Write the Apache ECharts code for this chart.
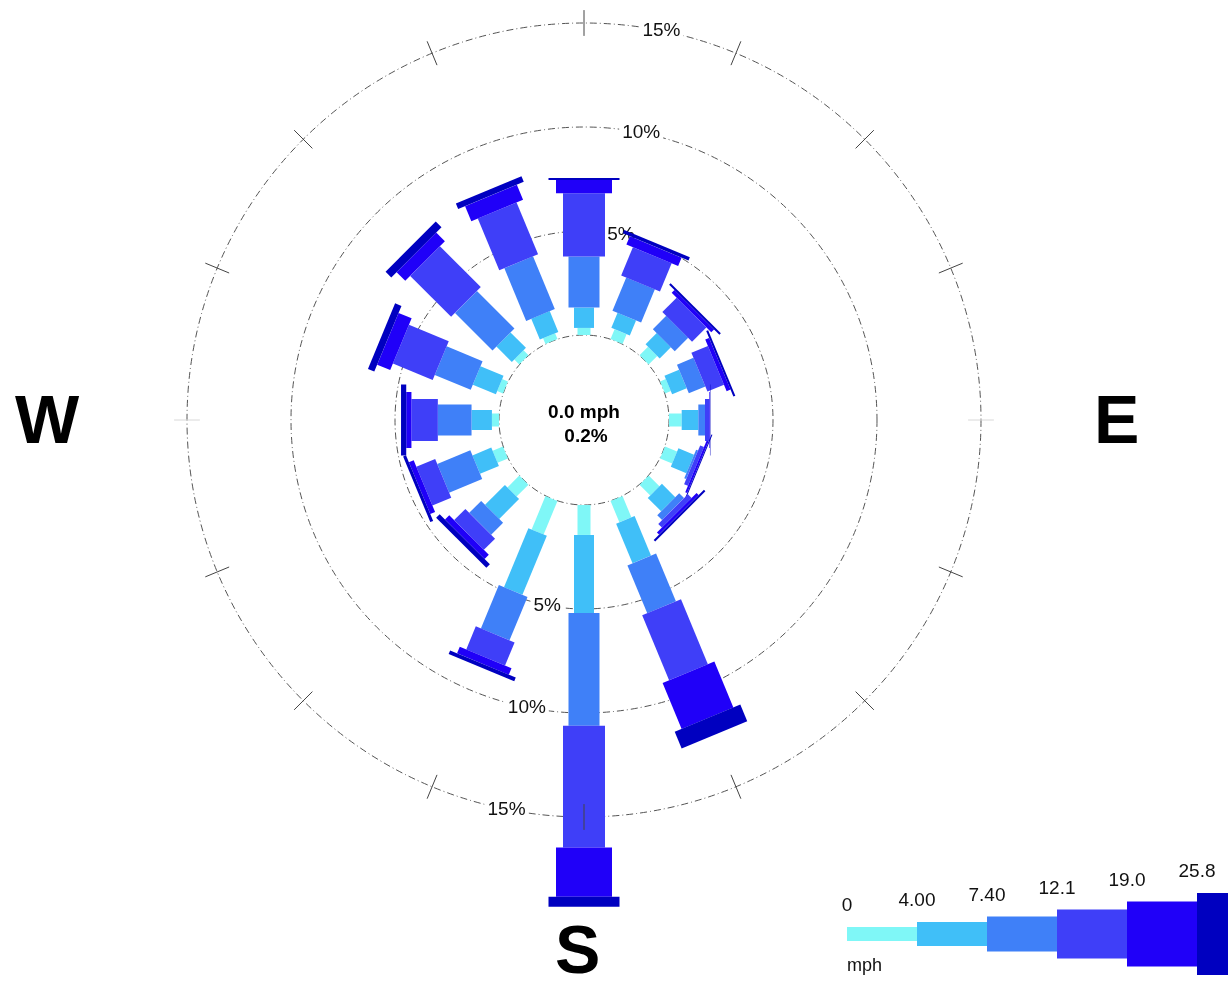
<!DOCTYPE html>
<html>
<head>
<meta charset="utf-8">
<title>Wind Rose</title>
<script src="https://cdn.jsdelivr.net/npm/echarts@6/dist/echarts.min.js"></script>
<style>
html, body { margin: 0; padding: 0; background: #ffffff; }
#rose { width: 1228px; height: 982px; }
</style>
</head>
<body>
<div id="rose"></div>
<script>
// 16 directions, clockwise from north
var directions = ['N', 'NNE', 'NE', 'ENE', 'E', 'ESE', 'SE', 'SSE', 'S', 'SSW', 'SW', 'WSW', 'W', 'WNW', 'NW', 'NNW'];

// frequency (%) of each wind speed class, per direction
var spd_0_4    = [0.34, 0.51, 0.58, 0.30, 0.61, 0.63, 0.73, 1.11, 1.44, 1.74, 0.81, 0.54, 0.34, 0.30, 0.34, 0.30];
var spd_4_74   = [0.98, 0.78, 0.76, 0.76, 0.80, 0.81, 0.91, 2.06, 3.75, 3.07, 1.35, 0.98, 0.98, 1.20, 1.05, 1.08];
var spd_74_121 = [2.45, 1.73, 0.91, 0.86, 0.32, 0.10, 0.33, 2.49, 5.42, 2.26, 0.81, 1.72, 1.62, 1.87, 2.55, 2.74];
var spd_121_19 = [3.04, 1.47, 0.97, 0.86, 0.21, 0.20, 0.25, 3.38, 5.86, 1.20, 0.76, 0.98, 1.27, 2.07, 2.78, 2.70];
var spd_19_258 = [0.64, 0.43, 0.19, 0.20, 0.03, 0.10, 0.14, 2.39, 2.36, 0.34, 0.29, 0.25, 0.25, 0.68, 0.59, 0.78];
var spd_258up  = [0.10, 0.17, 0.10, 0.10, 0.02, 0.05, 0.10, 0.87, 0.48, 0.19, 0.24, 0.15, 0.25, 0.33, 0.39, 0.29];

// legend tick labels (mph)
var speedBreaks = ['0', '4.00', '7.40', '12.1', '19.0', '25.8'];
var ringValues = [5, 10, 15];
var calmLabel = ['0.0 mph', '0.2%'];

var speedClasses = [spd_0_4, spd_4_74, spd_74_121, spd_121_19, spd_19_258, spd_258up];
var speedColors = ['#7ff7f7', '#40bff8', '#3f80f8', '#3f3ff8', '#2000f8', '#0000c0'];
var barWidths = [13, 20, 31, 42, 56, 71];
var legendHeights = [14, 24, 35, 49, 65, 82];
var step = 360 / directions.length;

// stacked segments: [direction index, start %, end %, class]
var segments = [];
directions.forEach(function (d, i) {
  var cum = 0;
  speedClasses.forEach(function (arr, k) {
    segments.push([i, cum, cum + arr[i], k]);
    cum += arr[i];
  });
});

var ringLabels = [];
ringValues.forEach(function (v) {
  ringLabels.push([v, step / 2]);
  ringLabels.push([v, 180 + step / 2]);
});

var tickAngles = directions.map(function (d, i) { return [15, i * step]; });

function renderBar(params, api) {
  var ang = api.value(0) * step;
  var k = api.value(3);
  var p0 = api.coord([api.value(1), ang]);
  var p1 = api.coord([api.value(2), ang]);
  var rad = ang * Math.PI / 180;
  var ux = Math.sin(rad), uy = -Math.cos(rad);
  var h = barWidths[k] / 2;
  var nx = -uy * h, ny = ux * h;
  return {
    type: 'polygon',
    shape: {
      points: [
        [p0[0] + nx, p0[1] + ny],
        [p1[0] + nx, p1[1] + ny],
        [p1[0] - nx, p1[1] - ny],
        [p0[0] - nx, p0[1] - ny]
      ]
    },
    style: { fill: speedColors[k] }
  };
}

function renderTick(params, api) {
  var ang = api.value(1);
  var a = api.coord([14.38, ang]);
  var b = api.coord([15.62, ang]);
  var side = ang === 90 || ang === 270;
  return {
    type: 'line',
    shape: { x1: a[0], y1: a[1], x2: b[0], y2: b[1] },
    style: { stroke: side ? '#d8d8d8' : '#444444', lineWidth: 1 }
  };
}

function renderRingLabel(params, api) {
  var p = api.coord([api.value(0), api.value(1)]);
  return {
    type: 'text',
    x: p[0],
    y: p[1],
    style: {
      text: api.value(0) + '%',
      fill: '#111111',
      font: '19px "Liberation Sans", Arial, sans-serif',
      align: 'center',
      verticalAlign: 'middle',
      backgroundColor: '#ffffff',
      padding: [0, 3]
    }
  };
}

var graphics = [
  { type: 'text', left: 15, top: 390, style: { text: 'W', font: 'bold 68px "Liberation Sans", Arial', fill: '#000' } },
  { type: 'text', left: 1094, top: 390, style: { text: 'E', font: 'bold 68px "Liberation Sans", Arial', fill: '#000' } },
  { type: 'text', left: 555, top: 920, style: { text: 'S', font: 'bold 68px "Liberation Sans", Arial', fill: '#000' } },
  { type: 'text', x: 584, y: 413, style: { text: calmLabel[0], font: 'bold 19px "Liberation Sans", Arial', fill: '#000', align: 'center', verticalAlign: 'middle' } },
  { type: 'text', x: 586, y: 437, style: { text: calmLabel[1], font: 'bold 19px "Liberation Sans", Arial', fill: '#000', align: 'center', verticalAlign: 'middle' } },
  { type: 'text', x: 847, y: 966, style: { text: 'mph', font: '18px "Liberation Sans", Arial', fill: '#111', verticalAlign: 'middle' } }
];
speedBreaks.forEach(function (lab, k) {
  var x = 847 + 70 * k;
  var hgt = legendHeights[k];
  graphics.push({ type: 'rect', shape: { x: x, y: 934 - hgt / 2, width: 70, height: hgt }, style: { fill: speedColors[k] } });
  graphics.push({ type: 'text', x: x, y: 934 - hgt / 2 - 21, style: { text: lab, font: '19px "Liberation Sans", Arial', fill: '#111', align: 'center', verticalAlign: 'middle' } });
});

var chart = echarts.init(document.getElementById('rose'));
chart.setOption({
  backgroundColor: '#ffffff',
  animation: false,
  polar: { center: [584, 420], radius: [85, 397] },
  angleAxis: {
    type: 'value', min: 0, max: 360, startAngle: 90, clockwise: true,
    axisLine: { show: false }, axisTick: { show: false }, axisLabel: { show: false }, splitLine: { show: false }
  },
  radiusAxis: {
    type: 'value', min: 0, max: 15, interval: 5,
    axisLine: { show: false }, axisTick: { show: false }, axisLabel: { show: false },
    splitLine: { show: true, lineStyle: { color: '#555555', width: 1, type: [7, 3, 1, 3] } }
  },
  graphic: graphics,
  series: [
    // ring labels sit under the bars, as in the original
    { type: 'custom', coordinateSystem: 'polar', renderItem: renderRingLabel, data: ringLabels },
    { type: 'custom', coordinateSystem: 'polar', renderItem: renderBar, data: segments },
    { type: 'custom', coordinateSystem: 'polar', renderItem: renderTick, data: tickAngles }
  ]
});
</script>
</body>
</html>
